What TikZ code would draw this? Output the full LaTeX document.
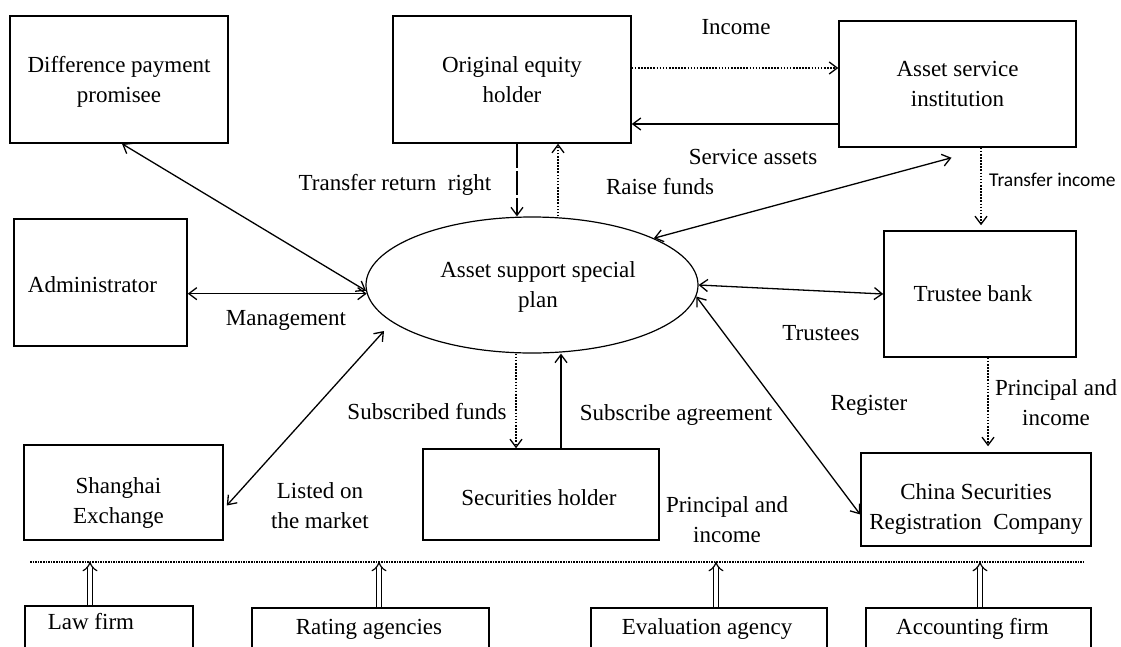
\documentclass[tikz,border=0pt]{standalone}
\usepackage{fontspec}
\setmainfont{Liberation Serif}
\newfontfamily\labelsans{Carlito}
\usetikzlibrary{arrows.meta,shapes.geometric,calc}

% box text set lower (#1) and sideways (#2) without changing the box size
\newcommand\placedtext[3]{\hspace*{#2}\raisebox{-#1}[\height][\depth]{\begin{tabular}{@{}c@{}}#3\end{tabular}}}

\begin{document}
\begin{tikzpicture}[x=1pt,y=-1pt,
  every node/.style={font=\fontsize{23}{30}\selectfont, align=center, inner sep=0pt},
  box/.style n args={2}{draw, line width=1.5pt, minimum width=#1, minimum height=#2},
  >={Straight Barb[length=8pt,width=12pt]},
  conn/.style={line width=1.3pt},
  dotline/.style={conn, dash pattern=on 1.6pt off 1.5pt},
  longdash/.style={conn, dash pattern=on 24pt off 3pt},
  hollow/.style={double, double distance=4pt, line width=1.2pt, -{Implies}},
  sepline/.style={line width=1.8pt, dash pattern=on 1.5pt off 1.1pt},
  smalllabel/.style={font=\labelsans\fontsize{19.5}{24}\selectfont}]

\clip (0,0) rectangle (1121,646);

% participants
\node[box={218pt}{127pt}] (diff) at (119,79.5) {\placedtext{2pt}{0pt}{Difference payment\\promisee}};
\node[box={238pt}{127pt}] (orig) at (512,79.5) {\placedtext{2pt}{0pt}{Original equity\\holder}};
\node[box={237pt}{126pt}] (asi) at (957.5,84) {\placedtext{1.5pt}{0pt}{Asset service\\institution}};
\node[box={173pt}{127pt}] (admin) at (100.5,282.5) {\placedtext{3.5pt}{-16pt}{Administrator}};
\node[box={192pt}{126pt}] (trustee) at (980,294) {\placedtext{1pt}{-14pt}{Trustee bank}};
\node[box={199pt}{95pt}] (shanghai) at (123.5,492.5) {\placedtext{10pt}{-10pt}{Shanghai\\Exchange}};
\node[box={236pt}{91pt}] (secholder) at (541,494.5) {\placedtext{4.5pt}{-4pt}{Securities holder}};
\node[box={230pt}{93pt}] (china) at (976,499.5) {\placedtext{8.5pt}{0pt}{China Securities\\Registration~ Company}};

% the plan in the middle
\node[draw, ellipse, line width=1.2pt, minimum width=332pt, minimum height=136pt]
  (plan) at (532,285) {\placedtext{1pt}{12pt}{Asset support special\\plan}};

% intermediaries below the separator
\node[box={168pt}{42pt}] (law) at (109,627) {\placedtext{-4pt}{-36pt}{Law firm}};
\node[box={237pt}{42pt}] (rating) at (370.5,629) {\placedtext{-1pt}{-3pt}{Rating agencies}};
\node[box={236pt}{42pt}] (eval) at (709,629) {\placedtext{-1pt}{-4pt}{Evaluation agency}};
\node[box={225pt}{42pt}] (acct) at (978.5,629) {\placedtext{-1pt}{-12pt}{Accounting firm}};

% flows around the plan
\draw[conn,<->] ($(diff.south)+(3,0)$) -- (plan.182);
\draw[conn,<->] (admin.east |- plan.183) -- (plan.183);
\draw[longdash,->] ($(orig.south)+(5,0)$) -- ($(plan.north)+(-15,0)$);
\draw[dotline,->] ($(plan.north)+(26,0)$) -- ($(orig.south)+(46,0)$);
\draw[dotline,->] ($(orig.east)+(0,-11.5)$) -- ($(asi.west)+(0,-16)$);
\draw[conn,->] ($(asi.west)+(0,40)$) -- ($(orig.east)+(0,44.5)$);
\draw[conn,<->] (plan.21) -- ($(asi.south)+(-6,10)$);
\draw[dotline,->] ($(asi.south)+(23.5,0)$) -- ($(trustee.north)+(1,-5)$);
\draw[conn,<->] (plan.east) -- (trustee.west);
\draw[conn,<->] (plan.-4) -- ($(china.west)+(0,15)$);
\draw[dotline,->] ($(trustee.south)+(8,0)$) -- ($(china.north)+(12,-6)$);
\draw[dotline,->] ($(plan.south)+(-16,0)$) -- ($(secholder.north)+(-25,0)$);
\draw[conn,->] ($(secholder.north)+(20,0)$) -- ($(plan.south)+(29,0)$);
\draw[conn,<->] ($(plan.center)+(-148,46)$) -- ($(shanghai.east)+(3,13)$);

% separator and supporting services
\draw[sepline] (30,562) -- (1084,562);
\draw[hollow] ($(law.north)+(-19,0)$) -- ($(law.north)+(-19,-44)$);
\draw[hollow] ($(rating.north)+(8.5,0)$) -- ($(rating.north)+(8.5,-46)$);
\draw[hollow] ($(eval.north)+(7,0)$) -- ($(eval.north)+(7,-46)$);
\draw[hollow] ($(acct.north)+(1.5,0)$) -- ($(acct.north)+(1.5,-46)$);

% flow labels
\node (lTransfer) at (395,185) {Transfer return~ right};
\node (lIncome) at (736,27) {Income};
\node (lService) at (753,157) {Service assets};
\node (lRaise) at (660,187) {Raise funds};
\node[smalllabel, anchor=west] (lTrIncome) at (989,180) {Transfer income};
\node (lManage) at (286,320) {Management};
\node (lTrustees) at (821,333) {Trustees};
\node (lRegister) at (869,405) {Register};
\node (lPrinA) at (1056,403) {Principal and\\income};
\node (lSubFunds) at (427,412) {Subscribed funds};
\node (lSubAgr) at (676,415) {Subscribe agreement};
\node (lListed) at (320,506) {Listed on\\the market};
\node (lPrinB) at (727,520) {Principal and\\income};
\end{tikzpicture}
\end{document}
